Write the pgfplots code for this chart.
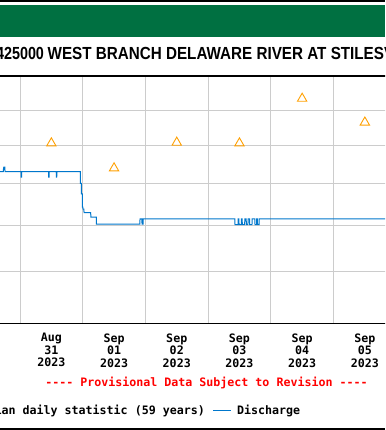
\documentclass[border=0pt]{standalone}
\usepackage{pgfplots}
\pgfplotsset{compat=1.18}
\usepackage{graphicx}
\usepackage{fontspec}
\setmainfont{Liberation Sans}
\newfontfamily\mono{DejaVu Sans Mono}[Ligatures=TeXOff]
\definecolor{usgsgreen}{RGB}{0,112,65}
\definecolor{qblue}{RGB}{0,119,204}
\definecolor{medorange}{RGB}{255,160,0}
\definecolor{gridgray}{RGB}{204,204,204}
\newcommand{\tickfont}{\mono\bfseries\fontsize{11.63}{12.5}\selectfont}
\newcommand{\titlefont}{\bfseries\fontsize{17.5}{19}\selectfont}
\pgfplotsset{
  linelegend/.style={legend image code/.code={\draw[##1] (0pt,0pt) -- (18pt,0pt); \path (23.3pt,0pt);}},
  medlegend/.style={legend image code/.code={\draw[##1] plot coordinates {(9pt,0pt)}; \path (23.3pt,0pt);}},
}

\begin{document}
\begin{tikzpicture}
\useasboundingbox (0pt,0pt) rectangle (385pt,430pt);
\clip (0pt,0pt) rectangle (385pt,430pt);
\fill[white] (0pt,0pt) rectangle (385pt,430pt);
\fill[black] (0pt,428.3pt) rectangle (385pt,430pt);
\fill[usgsgreen] (0pt,393.3pt) rectangle (385pt,425pt);
\node[anchor=base west, inner sep=0pt] at (47.5pt,370pt) {\scalebox{0.87}[1]{\titlefont WEST BRANCH DELAWARE RIVER AT STILESVILLE NY}};
\node[anchor=base east, inner sep=0pt] at (44.2pt,370pt) {\scalebox{0.82}[1]{\titlefont USGS 01425000}};

\begin{axis}[
  scale only axis,
  width=407.55pt, height=247.7pt,
  at={(-11.35pt,106.3pt)}, anchor=south west,
  xmin=0.5, xmax=7,
  ymode=log, ymin=798, ymax=1407,
  axis line style={line width=1.6pt, black},
  xtick={1.5,2.5,3.5,4.5,5.5,6.5},
  xticklabels={{Aug\\31\\2023},{Sep\\01\\2023},{Sep\\02\\2023},{Sep\\03\\2023},{Sep\\04\\2023},{Sep\\05\\2023}},
  xticklabel style={align=center, font=\tickfont, inner sep=0pt, anchor=north, yshift=-9.6pt},
  major tick length=0pt, minor tick length=0pt,
  minor xtick={0,1,2,3,4,5,6,7},
  xminorgrids, xmajorgrids=false,
  ytick={900,1000,1100,1200,1300}, yticklabels={},
  minor ytick={},
  ymajorgrids,
  grid style={gridgray, line width=0.9pt},
  minor grid style={gridgray, line width=0.9pt},
  legend columns=2,
  legend style={at={(0.7647,-0.3524)}, anchor=east, draw=none, fill=none,
    inner sep=0pt, column sep=0pt, font=\tickfont,
    nodes={inner sep=0pt},
    /tikz/every even column/.append style={column sep=8pt}},
]
\addplot[only marks, mark=triangle, mark size=5.4pt, draw=medorange, line width=0.9pt, medlegend]
  coordinates {(1.5,1206) (2.5,1139) (3.5,1208) (4.5,1206) (5.5,1336) (6.5,1265)};
\addlegendentry{Median daily statistic (59 years)}
\addplot[qblue, line width=1pt, linelegend] coordinates {
(0.49,1130) (0.733,1130) (0.734,1136) (0.740,1136) (0.741,1142) (0.760,1142) (0.761,1130)
(1.018,1130) (1.019,1116) (1.026,1116) (1.027,1130)
(1.455,1130) (1.456,1116) (1.463,1116) (1.464,1130)
(1.578,1130) (1.579,1116) (1.586,1116) (1.587,1130)
(1.962,1130) (1.963,1100) (1.978,1100) (1.979,1074) (1.994,1074) (1.995,1042)
(2.004,1042) (2.005,1037) (2.020,1037) (2.021,1029) (2.128,1029) (2.129,1018)
(2.218,1018) (2.219,1002) (2.913,1002) (2.914,1014) (2.945,1014) (2.946,1002)
(2.962,1002) (2.963,1014)
(4.428,1014) (4.429,1001) (4.477,1001) (4.478,1014) (4.492,1014) (4.493,1001)
(4.529,1001) (4.530,1014) (4.544,1014) (4.545,1001) (4.584,1001) (4.585,1014)
(4.608,1014) (4.609,1001) (4.636,1001) (4.637,1014) (4.662,1014) (4.663,1001)
(4.700,1001) (4.701,1014) (4.747,1014) (4.748,1001) (4.772,1001) (4.773,1014)
(4.787,1014) (4.788,1001) (4.812,1001) (4.813,1014) (7,1014)
};
\addlegendentry{Discharge}
\end{axis}

\node[anchor=base, inner sep=0pt, text=red, font=\tickfont] at (206.5pt,43pt) {---- Provisional Data Subject to Revision ----};
\fill[black] (0pt,0.3pt) rectangle (385pt,2.3pt);
\end{tikzpicture}
\end{document}
